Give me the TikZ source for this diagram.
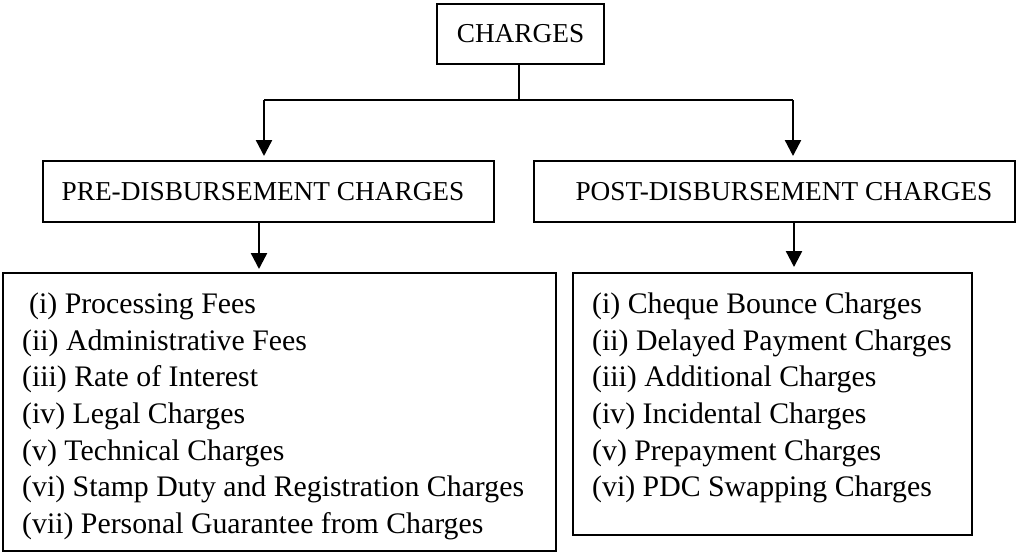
\documentclass[tikz,border=0pt]{standalone}
\usepackage{fontspec}
\setmainfont{Liberation Serif}
\usetikzlibrary{arrows.meta}
\begin{document}
\begin{tikzpicture}[x=1pt,y=-1pt,
  every node/.style={font=\fontsize{27.3}{36.7}\selectfont},
  box/.style={draw,line width=1.8pt,inner sep=0pt,rectangle},
  listtext/.style={align=left,inner sep=0pt,anchor=north west,
    font=\fontsize{29.8}{36.7}\selectfont},
  link/.style={line width=1.5pt},
  arr/.style={line width=2.4pt,-{Triangle[length=16pt,width=16pt]}}]
\useasboundingbox (0,0) rectangle (1016,552);
% heading and the two groups
\node[box,minimum width=167pt,minimum height=60pt] (top) at (520.5,34) {CHARGES};
\node[box,minimum width=451pt,minimum height=61pt] (pre) at (268.5,191.5) {\kern-11pt PRE-DISBURSEMENT CHARGES};
\node[box,minimum width=481pt,minimum height=61pt] (post) at (774.5,191.5) {\kern19pt POST-DISBURSEMENT CHARGES};
% item lists
\node[box,minimum width=553pt,minimum height=278pt] (prelist) at (279.5,412) {};
\node[box,minimum width=399pt,minimum height=262pt] (postlist) at (772.5,404) {};
\node[listtext] (pretext) at (22,292.5) {\hspace*{7pt}(i) Processing Fees\\
(ii) Administrative Fees\\
(iii) Rate of Interest\\
(iv) Legal Charges\\
(v) Technical Charges\\
(vi) Stamp Duty and Registration Charges\\
(vii) Personal Guarantee from Charges};
\node[listtext] (posttext) at (592,292.5) {(i) Cheque Bounce Charges\\
(ii) Delayed Payment Charges\\
(iii) Additional Charges\\
(iv) Incidental Charges\\
(v) Prepayment Charges\\
(vi) PDC Swapping Charges};
% connectors
\coordinate (split) at (519,100);
\coordinate (preend) at (264,156);
\coordinate (postend) at (793,156);
\coordinate (prelistend) at (259,269);
\coordinate (postlistend) at (794,267);
\draw[link] (top.south -| split) -- (split);
\draw[link] (preend |- split) -- (postend |- split);
\draw[arr] (preend |- split) -- (preend);
\draw[arr] (postend |- split) -- (postend);
\draw[arr] (prelistend |- pre.south) -- (prelistend);
\draw[arr] (postlistend |- post.south) -- (postlistend);
\end{tikzpicture}
\end{document}
